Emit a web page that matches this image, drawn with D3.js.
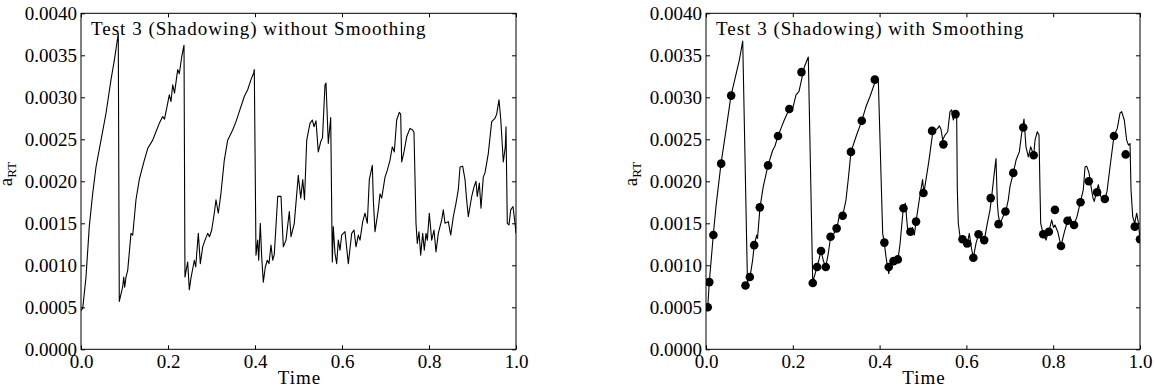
<!DOCTYPE html>
<html>
<head>
<meta charset="utf-8">
<script src="https://cdn.jsdelivr.net/npm/d3@7/dist/d3.min.js"></script>
<style>
  body { margin: 0; background: #fff; }
  svg text { font-family: "Liberation Serif", "DejaVu Serif", serif; fill: #000; }
</style>
</head>
<body>
<svg id="chart" width="1157" height="387"></svg>
<script>
// values are in units of 1e-3 (a_RT), time is dimensionless
const xTicks = [0, 0.2, 0.4, 0.6, 0.8, 1.0];
const yTicks = [0, 0.5, 1.0, 1.5, 2.0, 2.5, 3.0, 3.5, 4.0];
const yTickLabels = ["0.0000", "0.0005", "0.0010", "0.0015", "0.0020", "0.0025", "0.0030", "0.0035", "0.0040"];
const titles = ["Test 3 (Shadowing) without Smoothing", "Test 3 (Shadowing) with Smoothing"];

const rawTime = [
  0.000, 0.004, 0.0115, 0.019, 0.027, 0.0345, 0.046, 0.0575, 0.069, 0.0766, 0.0857, 0.088,
  0.0959, 0.0982, 0.1005, 0.1034, 0.1074, 0.1149, 0.1189, 0.1264, 0.134, 0.1379, 0.1455, 0.1533,
  0.1648, 0.1724, 0.18, 0.1878, 0.192, 0.1993, 0.203, 0.2069, 0.2108, 0.215, 0.2223, 0.226, 0.2315, 0.2368,
  0.239, 0.2453, 0.249, 0.2529, 0.2605, 0.2637, 0.2697, 0.2743, 0.2798, 0.2851, 0.2913, 0.2954, 0.3005,
  0.3064, 0.3103, 0.3156, 0.3218, 0.3294, 0.3372, 0.3487, 0.3563, 0.3639, 0.3754, 0.3832, 0.3908, 0.397, 0.3984,
  0.4023, 0.4062, 0.4085, 0.4122, 0.4154, 0.4191, 0.4237, 0.4283, 0.4322, 0.4368, 0.4407, 0.4444, 0.4522,
  0.4598, 0.4651, 0.4713, 0.4789, 0.4828, 0.4903, 0.4995, 0.5051, 0.5097, 0.5138, 0.5189, 0.5264, 0.5317,
  0.5356, 0.5402, 0.5455, 0.551, 0.5552, 0.5609, 0.5632, 0.5685, 0.574, 0.5777,
  0.58, 0.5839, 0.5878, 0.5915, 0.5954, 0.5993, 0.6069, 0.6145, 0.6223, 0.6276, 0.6322, 0.6375, 0.6414,
  0.6476, 0.6529, 0.6582, 0.6628, 0.6697, 0.672, 0.6759, 0.6834, 0.6874, 0.6913, 0.6989, 0.7041, 0.7103,
  0.7156, 0.7202, 0.7257, 0.7317, 0.7349, 0.7372, 0.7425, 0.7487, 0.7563, 0.7625, 0.7655, 0.7701,
  0.7731, 0.777, 0.7809, 0.7855, 0.7892, 0.7931, 0.7961, 0.8007, 0.8062, 0.8115, 0.8161, 0.8214, 0.8292,
  0.8329, 0.8368, 0.8444, 0.8499, 0.8559, 0.8621, 0.8674, 0.8713, 0.8774, 0.8828, 0.8862, 0.8904, 0.8943,
  0.8982, 0.9034, 0.908, 0.911, 0.9157, 0.9195, 0.9248, 0.9287, 0.9363, 0.9441, 0.9517, 0.9556, 0.9609,
  0.9648, 0.9708, 0.9754, 0.977, 0.98, 0.9839, 0.9878, 0.9931, 0.9977, 1.0
];
const rawValue = [
  0.46, 0.49, 0.86, 1.46, 1.86, 2.17, 2.49, 2.81, 3.21, 3.44, 3.76, 0.57,
  0.745, 0.86, 0.74, 0.86, 0.94, 1.38, 1.36, 1.78, 2.02, 2.10, 2.25, 2.39,
  2.49, 2.59, 2.69, 2.77, 2.74, 2.93, 3.03, 2.95, 3.15, 3.05, 3.33, 3.28, 3.48, 3.62,
  0.86, 1.04, 0.71, 0.85, 1.06, 0.98, 1.38, 1.02, 1.22, 1.30, 1.38, 1.34, 1.42,
  1.62, 1.78, 1.62, 1.86, 2.25, 2.49, 2.61, 2.71, 2.83, 3.01, 3.09, 3.21, 3.29, 3.33,
  1.12, 1.30, 1.06, 1.50, 1.10, 0.80, 0.98, 1.06, 1.02, 1.24, 1.06, 1.13, 1.82,
  1.82, 1.22, 1.30, 1.64, 1.34, 1.50, 2.07, 1.80, 2.02, 1.78, 2.49, 2.69, 2.73,
  2.65, 2.72, 2.35, 2.47, 2.52, 3.15, 3.17, 2.45, 2.76, 1.04,
  1.46, 1.14, 1.02, 1.30, 1.18, 1.36, 1.40, 1.02, 1.38, 1.42, 1.22, 1.36, 1.30,
  1.52, 1.62, 1.50, 2.02, 2.19, 1.78, 1.40, 1.66, 1.85, 1.80, 2.05, 2.13, 2.25,
  2.41, 2.35, 2.73, 2.82, 2.80, 2.23, 2.35, 2.53, 2.63, 2.61, 2.58, 1.50,
  1.26, 1.40, 1.12, 1.38, 1.18, 1.38, 1.30, 1.62, 1.30, 1.42, 1.16, 1.38, 1.54,
  1.66, 1.50, 1.52, 1.36, 1.58, 1.74, 1.90, 2.17, 2.18, 2.02, 1.80, 1.58, 1.70,
  1.82, 1.93, 2.00, 1.82, 1.98, 1.68, 2.05, 2.10, 2.33, 2.71, 2.75, 2.80, 2.97,
  2.75, 2.23, 2.41, 2.65, 1.50, 1.48, 1.66, 1.70, 1.50, 1.38
];

const smoothTime = [
  0.002, 0.004, 0.0076, 0.0168, 0.023, 0.0346, 0.0461, 0.0576, 0.0767, 0.0846, 0.0955,
  0.1014, 0.1071, 0.1113, 0.1168, 0.1187, 0.1244, 0.132, 0.1429, 0.1537, 0.159, 0.1659, 0.1728, 0.1804,
  0.1919, 0.2005, 0.2074, 0.2143, 0.2265, 0.2357, 0.2459,
  0.2558, 0.2604, 0.265, 0.2707, 0.2758, 0.2811, 0.2873, 0.2949, 0.3011, 0.3071, 0.315, 0.3226, 0.3283,
  0.3341, 0.3456, 0.3588, 0.3687, 0.3779, 0.3887, 0.397, 0.4071, 0.4108,
  0.4147, 0.421, 0.4251, 0.4316, 0.4424, 0.447, 0.4546, 0.4592, 0.4647, 0.4708, 0.4758, 0.48, 0.4839,
  0.4915, 0.499, 0.502, 0.5138, 0.5221, 0.5265, 0.5339, 0.5376, 0.5415, 0.5454, 0.5507, 0.5569, 0.5622,
  0.5661, 0.5698, 0.5737, 0.5776, 0.5791, 0.5813, 0.5853, 0.5906, 0.5968, 0.6021, 0.6067, 0.6118, 0.616,
  0.6221, 0.6283, 0.6336, 0.6413, 0.6468, 0.6544, 0.6578, 0.6643, 0.6682, 0.6712, 0.6735, 0.6774, 0.6843,
  0.6906, 0.6965, 0.7005, 0.7081, 0.7143, 0.7219, 0.7274, 0.7327, 0.7373, 0.7426, 0.7482, 0.7551, 0.7581,
  0.7634, 0.7673, 0.7696, 0.7712, 0.7772, 0.7834, 0.788, 0.7903, 0.7965, 0.8007, 0.8041, 0.8104, 0.818,
  0.826, 0.8334, 0.8387, 0.8433, 0.848, 0.8548, 0.8625, 0.8694, 0.8733, 0.8772, 0.8825, 0.8871, 0.8917,
  0.8947, 0.8986, 0.904, 0.9094, 0.9155, 0.9194, 0.924, 0.9309, 0.9401, 0.9477, 0.9539, 0.9578, 0.9638,
  0.9693, 0.9735, 0.977, 0.9793, 0.9832, 0.9878, 0.9924, 0.9965, 1.0
];
const smoothValue = [
  0.47, 0.50, 0.80, 1.36, 1.70, 2.21, 2.61, 3.02, 3.44, 3.67, 0.80,
  0.86, 1.05, 1.24, 1.36, 1.32, 1.69, 1.94, 2.19, 2.37, 2.42, 2.54, 2.63, 2.73,
  2.86, 2.88, 3.03, 3.07, 3.36, 3.48, 0.80,
  0.98, 1.07, 1.17, 1.05, 0.98, 1.12, 1.34, 1.38, 1.44, 1.58, 1.59, 1.78, 2.05,
  2.35, 2.53, 2.72, 2.89, 3.01, 3.17, 3.21, 1.38, 1.27,
  1.10, 0.90, 1.00, 1.05, 1.07, 1.25, 1.68, 1.74, 1.42, 1.40, 1.45, 1.36, 1.52,
  1.78, 2.02, 1.86, 2.25, 2.57, 2.60, 2.63, 2.66, 2.62, 2.49, 2.55, 2.59, 2.83,
  2.85, 2.73, 2.80, 2.78, 1.90, 1.50, 1.34, 1.31, 1.22, 1.26, 1.38, 1.20, 1.09,
  1.26, 1.37, 1.30, 1.30, 1.46, 1.66, 1.80, 2.10, 2.27, 1.75, 1.60, 1.49, 1.58,
  1.64, 1.78, 1.94, 2.10, 2.25, 2.35, 2.57, 2.74, 2.41, 2.29, 2.41, 2.31, 2.49,
  2.59, 2.55, 1.90, 1.50, 1.37, 1.30, 1.38, 1.40, 1.54, 1.45, 1.48, 1.40, 1.23,
  1.40, 1.53, 1.58, 1.50, 1.48, 1.58, 1.75, 1.90, 2.17, 2.18, 2.10, 1.94, 1.80,
  1.76, 1.85, 1.96, 1.82, 1.78, 1.79, 1.88, 2.17, 2.54, 2.63, 2.81, 2.83, 2.73,
  2.49, 2.43, 2.45, 1.90, 1.58, 1.50, 1.62, 1.50, 1.30
];

const markerTime = [
  0.004, 0.0076, 0.017, 0.035, 0.058, 0.091, 0.101, 0.111, 0.124, 0.143, 0.166, 0.192, 0.220,
  0.246, 0.256, 0.265, 0.276, 0.287, 0.301, 0.315, 0.334, 0.359, 0.389, 0.411, 0.421, 0.432,
  0.442, 0.455, 0.471, 0.484, 0.501, 0.521, 0.547, 0.575, 0.591, 0.602, 0.616, 0.628, 0.641,
  0.656, 0.674, 0.690, 0.708, 0.731, 0.755, 0.777, 0.790, 0.804, 0.818, 0.833, 0.848, 0.863,
  0.882, 0.901, 0.919, 0.940, 0.967, 0.988, 1.000
];
const markerValue = [
  0.50, 0.80, 1.36, 2.21, 3.02, 0.76, 0.86, 1.24, 1.69, 2.19, 2.54, 2.86, 3.30,
  0.79, 0.98, 1.17, 0.98, 1.34, 1.44, 1.59, 2.35, 2.72, 3.21, 1.27, 0.98, 1.05,
  1.07, 1.68, 1.40, 1.52, 1.86, 2.60, 2.44, 2.80, 1.31, 1.26, 1.09, 1.37, 1.30,
  1.80, 1.49, 1.64, 2.10, 2.64, 2.31, 1.37, 1.40, 1.66, 1.23, 1.53, 1.48, 1.75,
  2.00, 1.87, 1.79, 2.54, 2.32, 1.46, 1.31
];

const svg = d3.select("#chart");
const plotTop = 13.3, plotBottom = 349.3;
const panels = [
  { left: 81, right: 516, t: rawTime, v: rawValue, markers: false, title: titles[0] },
  { left: 706, right: 1140, t: smoothTime, v: smoothValue, markers: true, title: titles[1] }
];

const fontSize = 19;

panels.forEach((p, i) => {
  const x = d3.scaleLinear().domain([0, 1]).range([p.left, p.right]);
  const y = d3.scaleLinear().domain([0, 4]).range([plotBottom, plotTop]);
  const g = svg.append("g");

  const clipId = "clip" + i;
  svg.append("clipPath").attr("id", clipId)
    .append("rect").attr("x", p.left).attr("y", plotTop)
    .attr("width", p.right - p.left).attr("height", plotBottom - plotTop);

  const line = d3.line().x((d, j) => x(p.t[j])).y(d => y(d));
  g.append("path")
    .datum(p.v)
    .attr("clip-path", `url(#${clipId})`)
    .attr("fill", "none")
    .attr("stroke", "#000")
    .attr("stroke-width", 1.1)
    .attr("stroke-linejoin", "round")
    .attr("d", line);

  if (p.markers) {
    g.append("g").attr("clip-path", `url(#${clipId})`)
      .selectAll("circle")
      .data(markerValue)
      .join("circle")
      .attr("cx", (d, j) => x(markerTime[j]))
      .attr("cy", d => y(d))
      .attr("r", 4.3)
      .attr("fill", "#000");
  }

  // frame
  g.append("rect")
    .attr("x", p.left).attr("y", plotTop)
    .attr("width", p.right - p.left).attr("height", plotBottom - plotTop)
    .attr("fill", "none").attr("stroke", "#000").attr("stroke-width", 1);

  const tick = 4;
  const xb = g.append("g").attr("transform", `translate(0,${plotBottom})`)
    .call(d3.axisBottom(x).tickValues(xTicks).tickFormat(d3.format(".1f"))
      .tickSizeInner(-tick).tickSizeOuter(0).tickPadding(5));
  const xt = g.append("g").attr("transform", `translate(0,${plotTop})`)
    .call(d3.axisTop(x).tickValues(xTicks).tickFormat("")
      .tickSizeInner(-tick).tickSizeOuter(0));
  const yl = g.append("g").attr("transform", `translate(${p.left},0)`)
    .call(d3.axisLeft(y).tickValues(yTicks).tickFormat((d, j) => yTickLabels[j])
      .tickSizeInner(-tick).tickSizeOuter(0).tickPadding(4));
  const yr = g.append("g").attr("transform", `translate(${p.right},0)`)
    .call(d3.axisRight(y).tickValues(yTicks).tickFormat("")
      .tickSizeInner(-tick).tickSizeOuter(0));
  [xb, xt, yl, yr].forEach(a => {
    a.select(".domain").remove();
    a.selectAll("line").attr("stroke", "#000");
    a.selectAll("text").attr("font-size", fontSize)
      .style("font-family", '"Liberation Serif", "DejaVu Serif", serif').attr("fill", "#000");
  });

  g.append("text")
    .attr("x", p.left + 10).attr("y", plotTop + 22)
    .attr("font-size", fontSize)
    .attr("letter-spacing", 1)
    .text(p.title);

  g.append("text")
    .attr("x", (p.left + p.right) / 2 + 1).attr("y", 384)
    .attr("text-anchor", "middle")
    .attr("font-size", fontSize)
    .attr("letter-spacing", 1)
    .text("Time");

  const yLab = g.append("text")
    .attr("transform", `translate(${p.left - 69},174) rotate(-90)`)
    .attr("text-anchor", "middle")
    .attr("font-size", fontSize);
  yLab.append("tspan").text("a");
  yLab.append("tspan").attr("dy", 4).attr("font-size", 13).text("RT");
});
</script>
</body>
</html>
